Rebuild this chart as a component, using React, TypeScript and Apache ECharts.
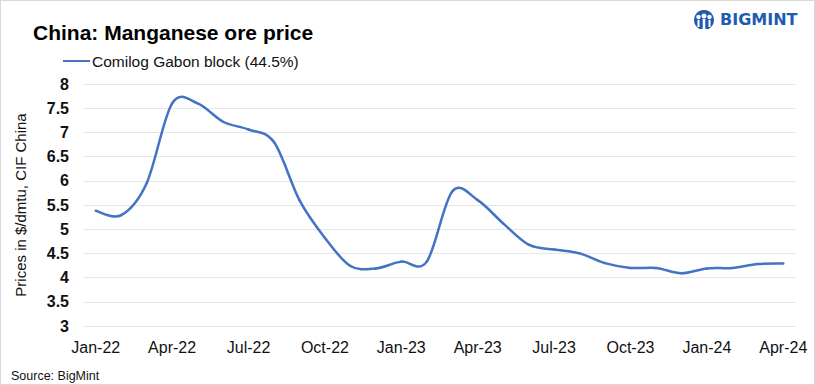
import React, { useEffect, useRef } from "react";
import * as echarts from "echarts";

const months = [
  "Jan-22", "Feb-22", "Mar-22", "Apr-22", "May-22", "Jun-22", "Jul-22", "Aug-22", "Sep-22", "Oct-22", "Nov-22", "Dec-22",
  "Jan-23", "Feb-23", "Mar-23", "Apr-23", "May-23", "Jun-23", "Jul-23", "Aug-23", "Sep-23", "Oct-23", "Nov-23", "Dec-23",
  "Jan-24", "Feb-24", "Mar-24", "Apr-24",
];
const prices = [
  5.38, 5.29, 5.95, 7.6, 7.6, 7.22, 7.06, 6.8, 5.6, 4.82, 4.24, 4.19,
  4.33, 4.33, 5.78, 5.6, 5.12, 4.68, 4.58, 4.5, 4.3, 4.2, 4.2, 4.09,
  4.19, 4.2, 4.28, 4.29,
];
const seriesName = "Comilog Gabon block (44.5%)";
const titleText = "China: Manganese ore price";
const yAxisName = "Prices in $/dmtu, CIF China";
const sourceText = "Source: BigMint";

const lineColor = "#4472c4";

function renderSpline(params: any, api: any) {
  if (params.dataIndex !== 0) return null;
  const pts = prices.map((v, i) => api.coord([i, v]));
  const n = pts.length;
  const children: any[] = [];
  for (let i = 0; i < n - 1; i++) {
    const p0 = pts[Math.max(i - 1, 0)];
    const p1 = pts[i];
    const p2 = pts[i + 1];
    const p3 = pts[Math.min(i + 2, n - 1)];
    children.push({
      type: "bezierCurve",
      shape: {
        x1: p1[0],
        y1: p1[1],
        x2: p2[0],
        y2: p2[1],
        cpx1: p1[0] + (p2[0] - p0[0]) / 6,
        cpy1: p1[1] + (p2[1] - p0[1]) / 6,
        cpx2: p2[0] - (p3[0] - p1[0]) / 6,
        cpy2: p2[1] - (p3[1] - p1[1]) / 6,
      },
      style: { fill: null, stroke: lineColor, lineWidth: 2.5, lineCap: "round" },
    });
  }
  return { type: "group", children };
}

export default function App() {
  const ref = useRef<HTMLDivElement>(null);
  useEffect(() => {
    if (!ref.current) return;
    const chart = echarts.init(ref.current, null, { renderer: "svg" });
    const blue = "#1f5bb0";
    chart.setOption({
      animation: false,
      backgroundColor: "#ffffff",
      title: {
        text: titleText,
        left: 27,
        top: 16,
        textStyle: { fontFamily: "Liberation Sans", fontWeight: "bold", fontSize: 21, color: "#000" },
      },
      legend: {
        left: 57,
        top: 47,
        itemWidth: 27,
        itemHeight: 2,
        itemGap: 4,
        icon: "rect",
        textStyle: { fontFamily: "Liberation Sans", fontSize: 15.5, color: "#111", padding: [0, 0, 0, -3] },
        data: [seriesName],
      },
      grid: { left: 82, right: 18, top: 83, bottom: 58 },
      xAxis: {
        type: "category",
        data: months,
        boundaryGap: true,
        axisLine: { show: false },
        axisTick: { show: false },
        axisLabel: {
          interval: 2,
          margin: 13,
          fontFamily: "Liberation Sans",
          fontSize: 16,
          color: "#111",
        },
      },
      yAxis: {
        type: "value",
        min: 3,
        max: 8,
        interval: 0.5,
        name: yAxisName,
        nameLocation: "middle",
        nameGap: 55,
        nameTextStyle: { fontFamily: "Liberation Sans", fontSize: 15, color: "#111" },
        axisLine: { show: false },
        axisTick: { show: false },
        splitLine: { lineStyle: { color: "#e6e6e6", width: 1 } },
        axisLabel: {
          margin: 14,
          fontFamily: "Liberation Sans",
          fontWeight: "bold",
          fontSize: 16,
          color: "#111",
        },
      },
      series: [
        {
          name: seriesName,
          type: "custom",
          data: prices.map((v, i) => [i, v]),
          encode: { x: 0, y: 1 },
          renderItem: renderSpline,
          itemStyle: { color: lineColor },
        },
      ],
      graphic: [
        {
          type: "text",
          left: 10,
          top: 368,
          style: { text: sourceText, fontFamily: "Liberation Sans", fontSize: 12.5, fill: "#111" },
        },
        {
          type: "group",
          left: 693,
          top: 9,
          children: [
            { type: "circle", shape: { cx: 10, cy: 10, r: 10 }, style: { fill: blue } },
            { type: "circle", shape: { cx: 10, cy: 6, r: 2.5 }, style: { fill: "#fff" } },
            { type: "circle", shape: { cx: 4.5, cy: 7, r: 2.2 }, style: { fill: "#fff" } },
            { type: "circle", shape: { cx: 15.5, cy: 7, r: 2.2 }, style: { fill: "#fff" } },
            { type: "rect", shape: { x: 8.7, y: 9, width: 2.6, height: 11 }, style: { fill: "#fff" } },
            { type: "rect", shape: { x: 3.5, y: 10, width: 2, height: 7 }, style: { fill: "#fff" } },
            { type: "rect", shape: { x: 14.5, y: 10, width: 2, height: 7 }, style: { fill: "#fff" } },
            { type: "rect", shape: { x: 6.5, y: 19, width: 7, height: 4 }, style: { fill: "#fff" } },
          ],
        },
        {
          type: "text",
          left: 719,
          top: 10,
          style: {
            text: "BIGMINT",
            fontFamily: "DejaVu Sans",
            fontWeight: "bold",
            fontSize: 16,
            fill: blue,
          },
        },
      ],
    });
    return () => chart.dispose();
  }, []);
  return (
    <div
      ref={ref}
      style={{
        position: "fixed",
        left: 0,
        top: 0,
        width: 815,
        height: 385,
        boxSizing: "border-box",
        border: "1px solid #d9d9d9",
      }}
    />
  );
}
